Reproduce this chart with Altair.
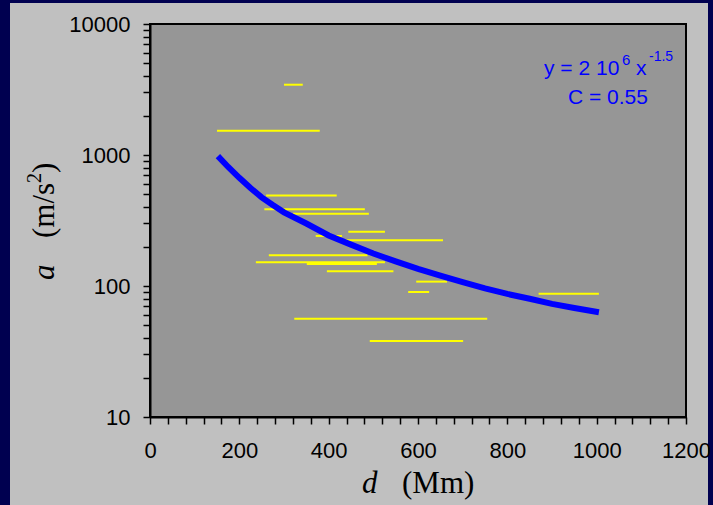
import altair as alt
import pandas as pd

# ---- data ----
seg_start = [300, 150, 260, 256, 320, 444, 371, 434, 266, 237, 351, 396, 596, 578, 323, 492, 870]
seg_end   = [342, 380, 418, 481, 490, 526, 430, 656, 487, 526, 508, 545, 665, 625, 755, 701, 1005]
seg_a     = [3440, 1530, 490, 385, 356, 260, 241, 223, 172, 152, 147, 129.5, 108, 90, 56.3, 38, 87.3]

fit_d = [152, 175, 200, 225, 250, 275, 300, 350, 400, 450, 500, 550, 600, 650, 700, 750, 800, 850, 900, 950, 1005]
fit_a = [980, 810, 670, 560, 475, 415, 365, 300, 243, 207, 177, 154, 135, 120, 107, 96, 87, 80, 73, 68, 63]

x_ticks = list(range(0, 1201, 40))
y_ticks = [m * 10 ** e for e in range(1, 4) for m in range(1, 10)] + [10000]

segs = pd.DataFrame({"x1": seg_start, "x2": seg_end, "a": seg_a})
fit = pd.DataFrame({"d": fit_d, "a": fit_a})
one = pd.DataFrame({"k": [0]})

W, H = 536, 393
NAVY = "#000050"
PANEL = "#c0c0c0"
PLOT = "#969696"

xscale = alt.Scale(domain=[0, 1200], nice=False, zero=False)
yscale = alt.Scale(type="log", domain=[10, 10000], nice=False)

xaxis = alt.Axis(
    title=None, values=x_ticks, tickCount=200, grid=False, format="d",
    labelExpr="datum.value % 200 == 0 ? datum.label : ''",
    labelFont="Liberation Sans", labelFontSize=22, labelColor="black",
    labelPadding=16, labelOverlap=False, labelFlush=False,
    tickSize=7, tickColor="black", tickWidth=1.5,
    domainColor="black", domainWidth=2, zindex=1,
)
yaxis = alt.Axis(
    title=None, values=y_ticks, tickCount=200, grid=False, format="d",
    labelExpr="indexof([10,100,1000,10000], datum.value) >= 0 ? datum.label : ''",
    labelFont="Liberation Sans", labelFontSize=22, labelColor="black",
    labelPadding=13, labelOverlap=False, labelFlush=False,
    tickSize=7, tickColor="black", tickWidth=1.5,
    domainColor="black", domainWidth=2, zindex=1,
)

panel = alt.Chart(one).mark_rect(color=PANEL).encode(
    x=alt.value(-140), x2=alt.value(558), y=alt.value(-21), y2=alt.value(481)
)
plotbg = alt.Chart(one).mark_rect(fill=PLOT, stroke="black", strokeWidth=2).encode(
    x=alt.value(0), x2=alt.value(W), y=alt.value(0), y2=alt.value(H)
)

rules = alt.Chart(segs).mark_rule(color="#ffff00", strokeWidth=2).encode(
    x=alt.X("x1:Q", scale=xscale, axis=xaxis),
    x2="x2:Q",
    y=alt.Y("a:Q", scale=yscale, axis=yaxis),
)

line = alt.Chart(fit).mark_line(color="#0000ff", strokeWidth=6, strokeCap="butt").encode(
    x=alt.X("d:Q", scale=xscale),
    y=alt.Y("a:Q", scale=yscale),
)

def txt(s, x, y, size, font="Liberation Sans", color="#0000ff", style="normal", angle=0):
    kw = dict(text=s, font=font, fontSize=size, color=color, align="left",
              baseline="alphabetic", fontStyle=style)
    if angle:
        kw["angle"] = angle
    return alt.Chart(one).mark_text(**kw).encode(x=alt.value(x), y=alt.value(y))

annots = [
    txt("y = 2 10", 394, 51, 21),
    txt("6", 472, 41, 15),
    txt("x", 486, 51, 21),
    txt("-1.5", 499, 37, 14),
    txt("C = 0.55", 418, 80, 21),
    # axis titles
    txt("d", 212, 469, 31, font="Liberation Serif", color="black", style="italic"),
    txt("(Mm)", 252, 469, 31, font="Liberation Serif", color="black"),
    txt("a", -96, 256, 31, font="Liberation Serif", color="black", style="italic", angle=270),
    txt("(m/s", -96, 214, 31, font="Liberation Serif", color="black", angle=270),
    txt("2", -109, 159, 20, font="Liberation Serif", color="black", angle=270),
    txt(")", -96, 149, 31, font="Liberation Serif", color="black", angle=270),
]

chart = alt.layer(panel, plotbg, rules, line, *annots).properties(
    width=W, height=H,
    padding={"left": 150, "top": 24, "right": 27, "bottom": 88},
    autosize=alt.AutoSizeParams(type="none"),
    background=NAVY,
).configure_view(strokeWidth=0)

chart.save("out.html", embed_options={"renderer": "svg", "actions": False})
